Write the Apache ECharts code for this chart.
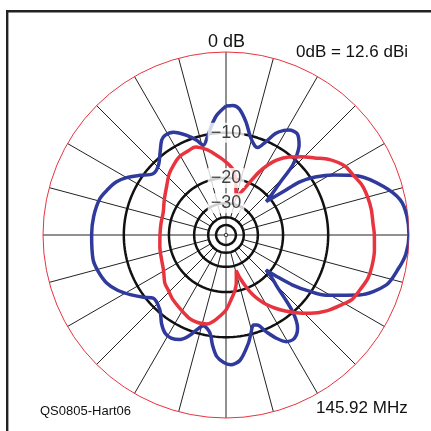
<!DOCTYPE html>
<html>
<head>
<meta charset="utf-8">
<script src="https://cdn.jsdelivr.net/npm/echarts@6/dist/echarts.min.js"></script>
<style>
html,body{margin:0;padding:0;background:#fff;}
#chart{width:431px;height:431px;}
</style>
</head>
<body>
<div id="chart"></div>
<script>
// ---- data (compass angle in degrees, 0 = top, clockwise; level in dB relative to 0 dB) ----
const blueAngles = [0,3,6,10,14,18,20,23,26,29,31,35,39,41.5,43.7,46,48.5,50.3,52.8,54.2,57,60.8,66,72.9,78.6,84,90,96,101,107.4,114.2,121,124,126.9,129.5,131.2,133,135,139,142.5,146.5,150.6,154,157.5,161,163.1,166,168.4,173.6,178,181,184.4,187,189.3,194,197.2,200,203.7,208,211.9,216,221.5,229.1,233,238.1,243,248.1,254,259.5,270,278,286,291,295.9,300,304.8,310,315.8,321.5,325.8,328.5,332.9,338.5,342.8,345.8,350,353.6,355.6,360];
const blueDb = [-6.0,-5.9,-6.3,-8.0,-10.2,-11.5,-11.6,-10.2,-8.3,-7.3,-6.9,-6.7,-7.8,-9.2,-11,-15.5,-19,-21.5,-16.1,-12,-9.3,-6.8,-4.0,-1.8,-0.5,-0.1,0,-0.2,-0.7,-1.5,-3.85,-7.7,-10.3,-13.5,-18,-21.2,-18.5,-16.3,-10.1,-7.6,-6.7,-6.9,-8.0,-9.6,-11.2,-11.4,-10.0,-8.6,-6.4,-5.9,-6.2,-7.0,-8.6,-10.5,-11.5,-10.5,-9.2,-8.1,-7.7,-7.9,-8.8,-10.4,-11.0,-9.8,-8.3,-7.0,-6.05,-5.5,-5.2,-5.3,-5.4,-5.7,-6.3,-7.0,-8.0,-9.6,-11.2,-10.9,-9.4,-8.05,-7.7,-7.9,-9.2,-10.5,-11.7,-10.0,-8.1,-7.2,-6.0];

const redAngles = [0,6,10,13,15.5,18.6,22,25,28,31,34,39,44,49,54,60,65,70,75,80,86,90,96,102,107,112,117,121,127,133,138,142,146,150,153,156,159,162,164,166,168,171,175.5,180,184,188,192,198,204,212,220,226,232,240,250,260,270,280,290,300,310,317,323,329,335,341,347,352,356,360];
const redDb = [-15.8,-17.5,-20.5,-24.3,-26.5,-24.5,-22,-19,-16,-13.8,-12.1,-10.3,-8.9,-7.6,-6.1,-4.9,-4.5,-4.0,-3.8,-3.7,-3.7,-3.6,-3.5,-3.5,-3.6,-4.0,-4.4,-5.2,-6.4,-8.0,-9.6,-11,-12.5,-14.2,-15.8,-17.8,-20.6,-24,-27.5,-25,-22.5,-20.2,-17.8,-15.3,-14,-12.8,-12,-11.8,-12.0,-12.8,-13.5,-14.2,-14.7,-16.0,-16.8,-17.2,-17.5,-17.5,-17.3,-16.2,-14.8,-13.5,-12.7,-12.0,-11.8,-11.6,-12.6,-13.8,-14.8,-15.8];

const ringDb = [-10, -20, -30, -40, -50];
const hubDb = -40;
const labelDb = [-10, -20, -30];
const labelText = ['\u221210', '\u221220', '\u221230'];
const spokeStep = 15;

// ARRL log scale: radius shrinks by 0.89 for every 2 dB
const scaleR = db => Math.pow(0.89, -db / 2);

const toPolar = (angles, dbs) => angles.map((a, i) => [scaleR(dbs[i]), a]);
const circleAngles = [];
for (let a = 0; a <= 360; a += 2) circleAngles.push(a);
const ring = db => circleAngles.map(a => [scaleR(db), a]);

const FONT = "'Liberation Sans', Arial, Helvetica, sans-serif";

const series = [];
// white hub hiding the spokes near the centre
series.push({
  type: 'line', coordinateSystem: 'polar', data: ring(hubDb), symbol: 'none', silent: true,
  lineStyle: { width: 0 }, areaStyle: { color: '#fff', opacity: 1 }, z: 2
});
// centre cross
series.push({
  type: 'line', coordinateSystem: 'polar', symbol: 'none', silent: true, z: 3,
  data: [[scaleR(hubDb), 0], [scaleR(hubDb), 180]], lineStyle: { color: '#555', width: 1 }
});
series.push({
  type: 'line', coordinateSystem: 'polar', symbol: 'none', silent: true, z: 3,
  data: [[scaleR(hubDb), 90], [scaleR(hubDb), 270]], lineStyle: { color: '#222', width: 1 }
});
// dB rings
ringDb.forEach(db => series.push({
  type: 'line', coordinateSystem: 'polar', data: ring(db), symbol: 'none', silent: true,
  lineStyle: { color: '#111', width: 2.5 }, z: 3
}));
// centre dot
series.push({
  type: 'scatter', coordinateSystem: 'polar', data: [[0, 0]], symbol: 'circle', symbolSize: 3.5,
  itemStyle: { color: '#fff', borderColor: '#111', borderWidth: 1 }, z: 3, silent: true
});
// patterns
series.push({
  type: 'line', coordinateSystem: 'polar', data: toPolar(blueAngles, blueDb), symbol: 'none',
  smooth: 0.3, lineStyle: { color: '#2f3a9c', width: 3.5 }, z: 5
});
series.push({
  type: 'line', coordinateSystem: 'polar', data: toPolar(redAngles, redDb), symbol: 'none',
  smooth: 0.3, lineStyle: { color: '#e8343f', width: 3.5 }, z: 5
});
// ring labels
series.push({
  type: 'scatter', coordinateSystem: 'polar', symbolSize: 0, z: 10, silent: true,
  data: labelDb.map(db => [scaleR(db), 0]),
  label: {
    show: true, position: 'inside', formatter: p => labelText[p.dataIndex],
    color: '#111', fontFamily: FONT, fontSize: 18, backgroundColor: '#fff', padding: [1, 3]
  }
});

const chart = echarts.init(document.getElementById('chart'), null, { renderer: 'canvas' });
chart.setOption({
  animation: false,
  backgroundColor: '#fff',
  polar: { center: [226, 235], radius: 183 },
  angleAxis: {
    type: 'value', min: 0, max: 360, interval: spokeStep, startAngle: 90, clockwise: true,
    axisLine: { show: true, lineStyle: { color: '#e8343f', width: 1 } },
    axisTick: { show: false }, axisLabel: { show: false },
    splitLine: { show: true, lineStyle: { color: '#222', width: 1 } }
  },
  radiusAxis: {
    type: 'value', min: 0, max: 1,
    axisLine: { show: false }, axisTick: { show: false }, axisLabel: { show: false },
    splitLine: { show: false }
  },
  graphic: [
    { type: 'polyline', shape: { points: [[7.2, 431], [7.2, 11.2], [431, 11.2]] },
      style: { stroke: '#222', lineWidth: 2.4, fill: null }, z: 20 },
    { type: 'text', x: 226.5, y: 41.7, z: 20,
      style: { text: '0 dB', font: '18px ' + FONT, fill: '#111', textAlign: 'center', textVerticalAlign: 'middle' } },
    { type: 'text', x: 296, y: 52.5, z: 20,
      style: { text: '0dB = 12.6 dBi', font: '17px ' + FONT, fill: '#111', textAlign: 'left', textVerticalAlign: 'middle' } },
    { type: 'text', x: 316, y: 408.3, z: 20,
      style: { text: '145.92 MHz', font: '17px ' + FONT, fill: '#111', textAlign: 'left', textVerticalAlign: 'middle' } },
    { type: 'text', x: 40, y: 411.3, z: 20,
      style: { text: 'QS0805-Hart06', font: '13px ' + FONT, fill: '#111', textAlign: 'left', textVerticalAlign: 'middle' } }
  ],
  series: series
});
</script>
</body>
</html>
